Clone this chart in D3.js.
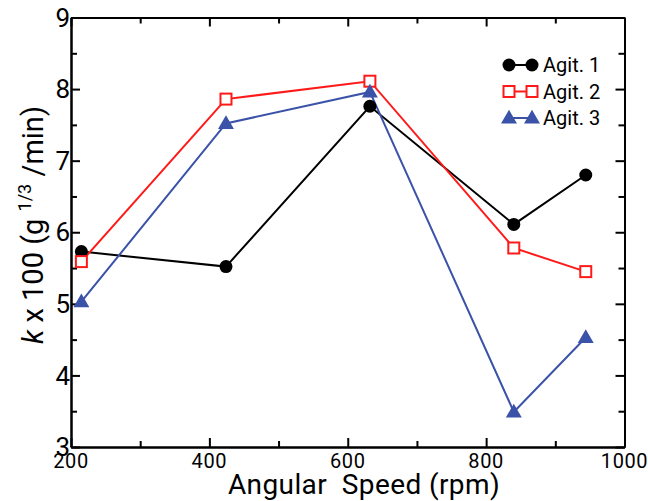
<!DOCTYPE html>
<html>
<head>
<meta charset="utf-8">
<script src="https://cdn.jsdelivr.net/npm/d3@7"></script>
<style>
  body { margin: 0; background: #fff; }
  svg { display: block; font-family: Roboto, sans-serif; }
</style>
</head>
<body>
<div id="area"></div>
<script>
const speeds = [215, 424, 632, 840, 944]
const agit1 = [5.73, 5.52, 7.76, 6.11, 6.80]
const agit2 = [5.59, 7.86, 8.11, 5.78, 5.45]
const agit3 = [5.03, 7.52, 7.96, 3.49, 4.53]
const seriesNames = ['Agit. 1', 'Agit. 2', 'Agit. 3']
const xTicks = [200, 400, 600, 800, 1000]
const yTicks = [3, 4, 5, 6, 7, 8, 9]

const colors = ['#000000', '#ff1a1a', '#3a52a8']
const shapes = ['circle', 'square', 'triangle']

const svg = d3.select('#area')
  .append('svg')
  .attr('width', 648)
  .attr('height', 501)

const x = d3.scaleLinear().domain([200, 1000]).range([71, 624.5])
const y = d3.scaleLinear().domain([3, 9]).range([447, 17.5])

// frame with inward ticks on all sides
const xMinor = d3.range(300, 1000, 200)
const yMinor = d3.range(3.5, 9, 1)

svg.append('g').attr('transform', `translate(0,${y(3)})`)
  .call(d3.axisBottom(x).tickValues(xTicks).tickSizeInner(-9).tickSizeOuter(0).tickFormat(''))
svg.append('g').attr('transform', `translate(0,${y(3)})`)
  .call(d3.axisBottom(x).tickValues(xMinor).tickSizeInner(-6).tickSizeOuter(0).tickFormat(''))
svg.append('g').attr('transform', `translate(0,${y(9)})`)
  .call(d3.axisTop(x).tickValues(xTicks).tickSizeInner(-9).tickSizeOuter(0).tickFormat(''))
svg.append('g').attr('transform', `translate(0,${y(9)})`)
  .call(d3.axisTop(x).tickValues(xMinor).tickSizeInner(-6).tickSizeOuter(0).tickFormat(''))
svg.append('g').attr('transform', `translate(${x(200)},0)`)
  .call(d3.axisLeft(y).tickValues(yTicks).tickSizeInner(-9).tickSizeOuter(0).tickFormat(''))
svg.append('g').attr('transform', `translate(${x(200)},0)`)
  .call(d3.axisLeft(y).tickValues(yMinor).tickSizeInner(-6).tickSizeOuter(0).tickFormat(''))
svg.append('g').attr('transform', `translate(${x(1000)},0)`)
  .call(d3.axisRight(y).tickValues(yTicks).tickSizeInner(-9).tickSizeOuter(0).tickFormat(''))
svg.append('g').attr('transform', `translate(${x(1000)},0)`)
  .call(d3.axisRight(y).tickValues(yMinor).tickSizeInner(-6).tickSizeOuter(0).tickFormat(''))

svg.selectAll('.domain').attr('stroke', '#000').attr('stroke-width', 2)
svg.selectAll('.tick line').attr('stroke', '#000').attr('stroke-width', 2)

// tick labels
svg.selectAll('.xlab')
  .data(xTicks)
  .enter()
  .append('text')
  .attr('class', 'xlab')
  .attr('x', d => x(d))
  .attr('y', 468)
  .attr('text-anchor', 'middle')
  .attr('font-size', 20)
  .attr('letter-spacing', 0.6)
  .text(d => d)

svg.selectAll('.ylab')
  .data(yTicks)
  .enter()
  .append('text')
  .attr('class', 'ylab')
  .attr('x', 70)
  .attr('y', d => y(d))
  .attr('dy', '0.35em')
  .attr('text-anchor', 'end')
  .attr('font-size', 26)
  .text(d => d)

// axis titles
svg.append('text')
  .attr('x', 364)
  .attr('y', 494)
  .attr('text-anchor', 'middle')
  .attr('font-size', 28)
  .attr('letter-spacing', 0.4)
  .attr('xml:space', 'preserve')
  .text('Angular  Speed (rpm)')

const ytitle = svg.append('text')
  .attr('transform', 'translate(43,225) rotate(-90)')
  .attr('text-anchor', 'middle')
  .attr('font-size', 29)
  .attr('xml:space', 'preserve')
ytitle.append('tspan').attr('font-style', 'italic').text('k')
ytitle.append('tspan').text(' x 100 (g ')
ytitle.append('tspan').attr('font-size', 18).attr('dy', -12).text('1/3')
ytitle.append('tspan').attr('dy', 12).text(' /min)')

// markers
function marker(g, shape, color, cx, cy) {
  if (shape === 'circle') {
    g.append('circle').attr('cx', cx).attr('cy', cy).attr('r', 6.5).attr('fill', color)
  } else if (shape === 'square') {
    g.append('rect').attr('x', cx - 5.5).attr('y', cy - 5.5).attr('width', 11).attr('height', 11)
      .attr('fill', '#fff').attr('stroke', color).attr('stroke-width', 2)
  } else {
    g.append('path').attr('d', d3.symbol(d3.symbolTriangle, 110)())
      .attr('transform', `translate(${cx},${cy + 1})`).attr('fill', color)
  }
}

const series = [agit1, agit2, agit3]
const line = d3.line().x(d => x(d[0])).y(d => y(d[1]))

series.forEach((vals, s) => {
  const pts = speeds.map((sp, i) => [sp, vals[i]])
  svg.append('path')
    .attr('d', line(pts))
    .attr('fill', 'none')
    .attr('stroke', colors[s])
    .attr('stroke-width', 2)
})
series.forEach((vals, s) => {
  const g = svg.append('g')
  speeds.forEach((sp, i) => marker(g, shapes[s], colors[s], x(sp), y(vals[i])))
})

// legend
seriesNames.forEach((name, s) => {
  const ly = 65 + s * 26.5
  const g = svg.append('g')
  g.append('line').attr('x1', 509).attr('x2', 532).attr('y1', ly).attr('y2', ly)
    .attr('stroke', colors[s]).attr('stroke-width', 2)
  marker(g, shapes[s], colors[s], 509, ly)
  marker(g, shapes[s], colors[s], 532, ly)
  g.append('text').attr('x', 543).attr('y', ly + 7).attr('font-size', 20).text(name)
})
</script>
</body>
</html>
